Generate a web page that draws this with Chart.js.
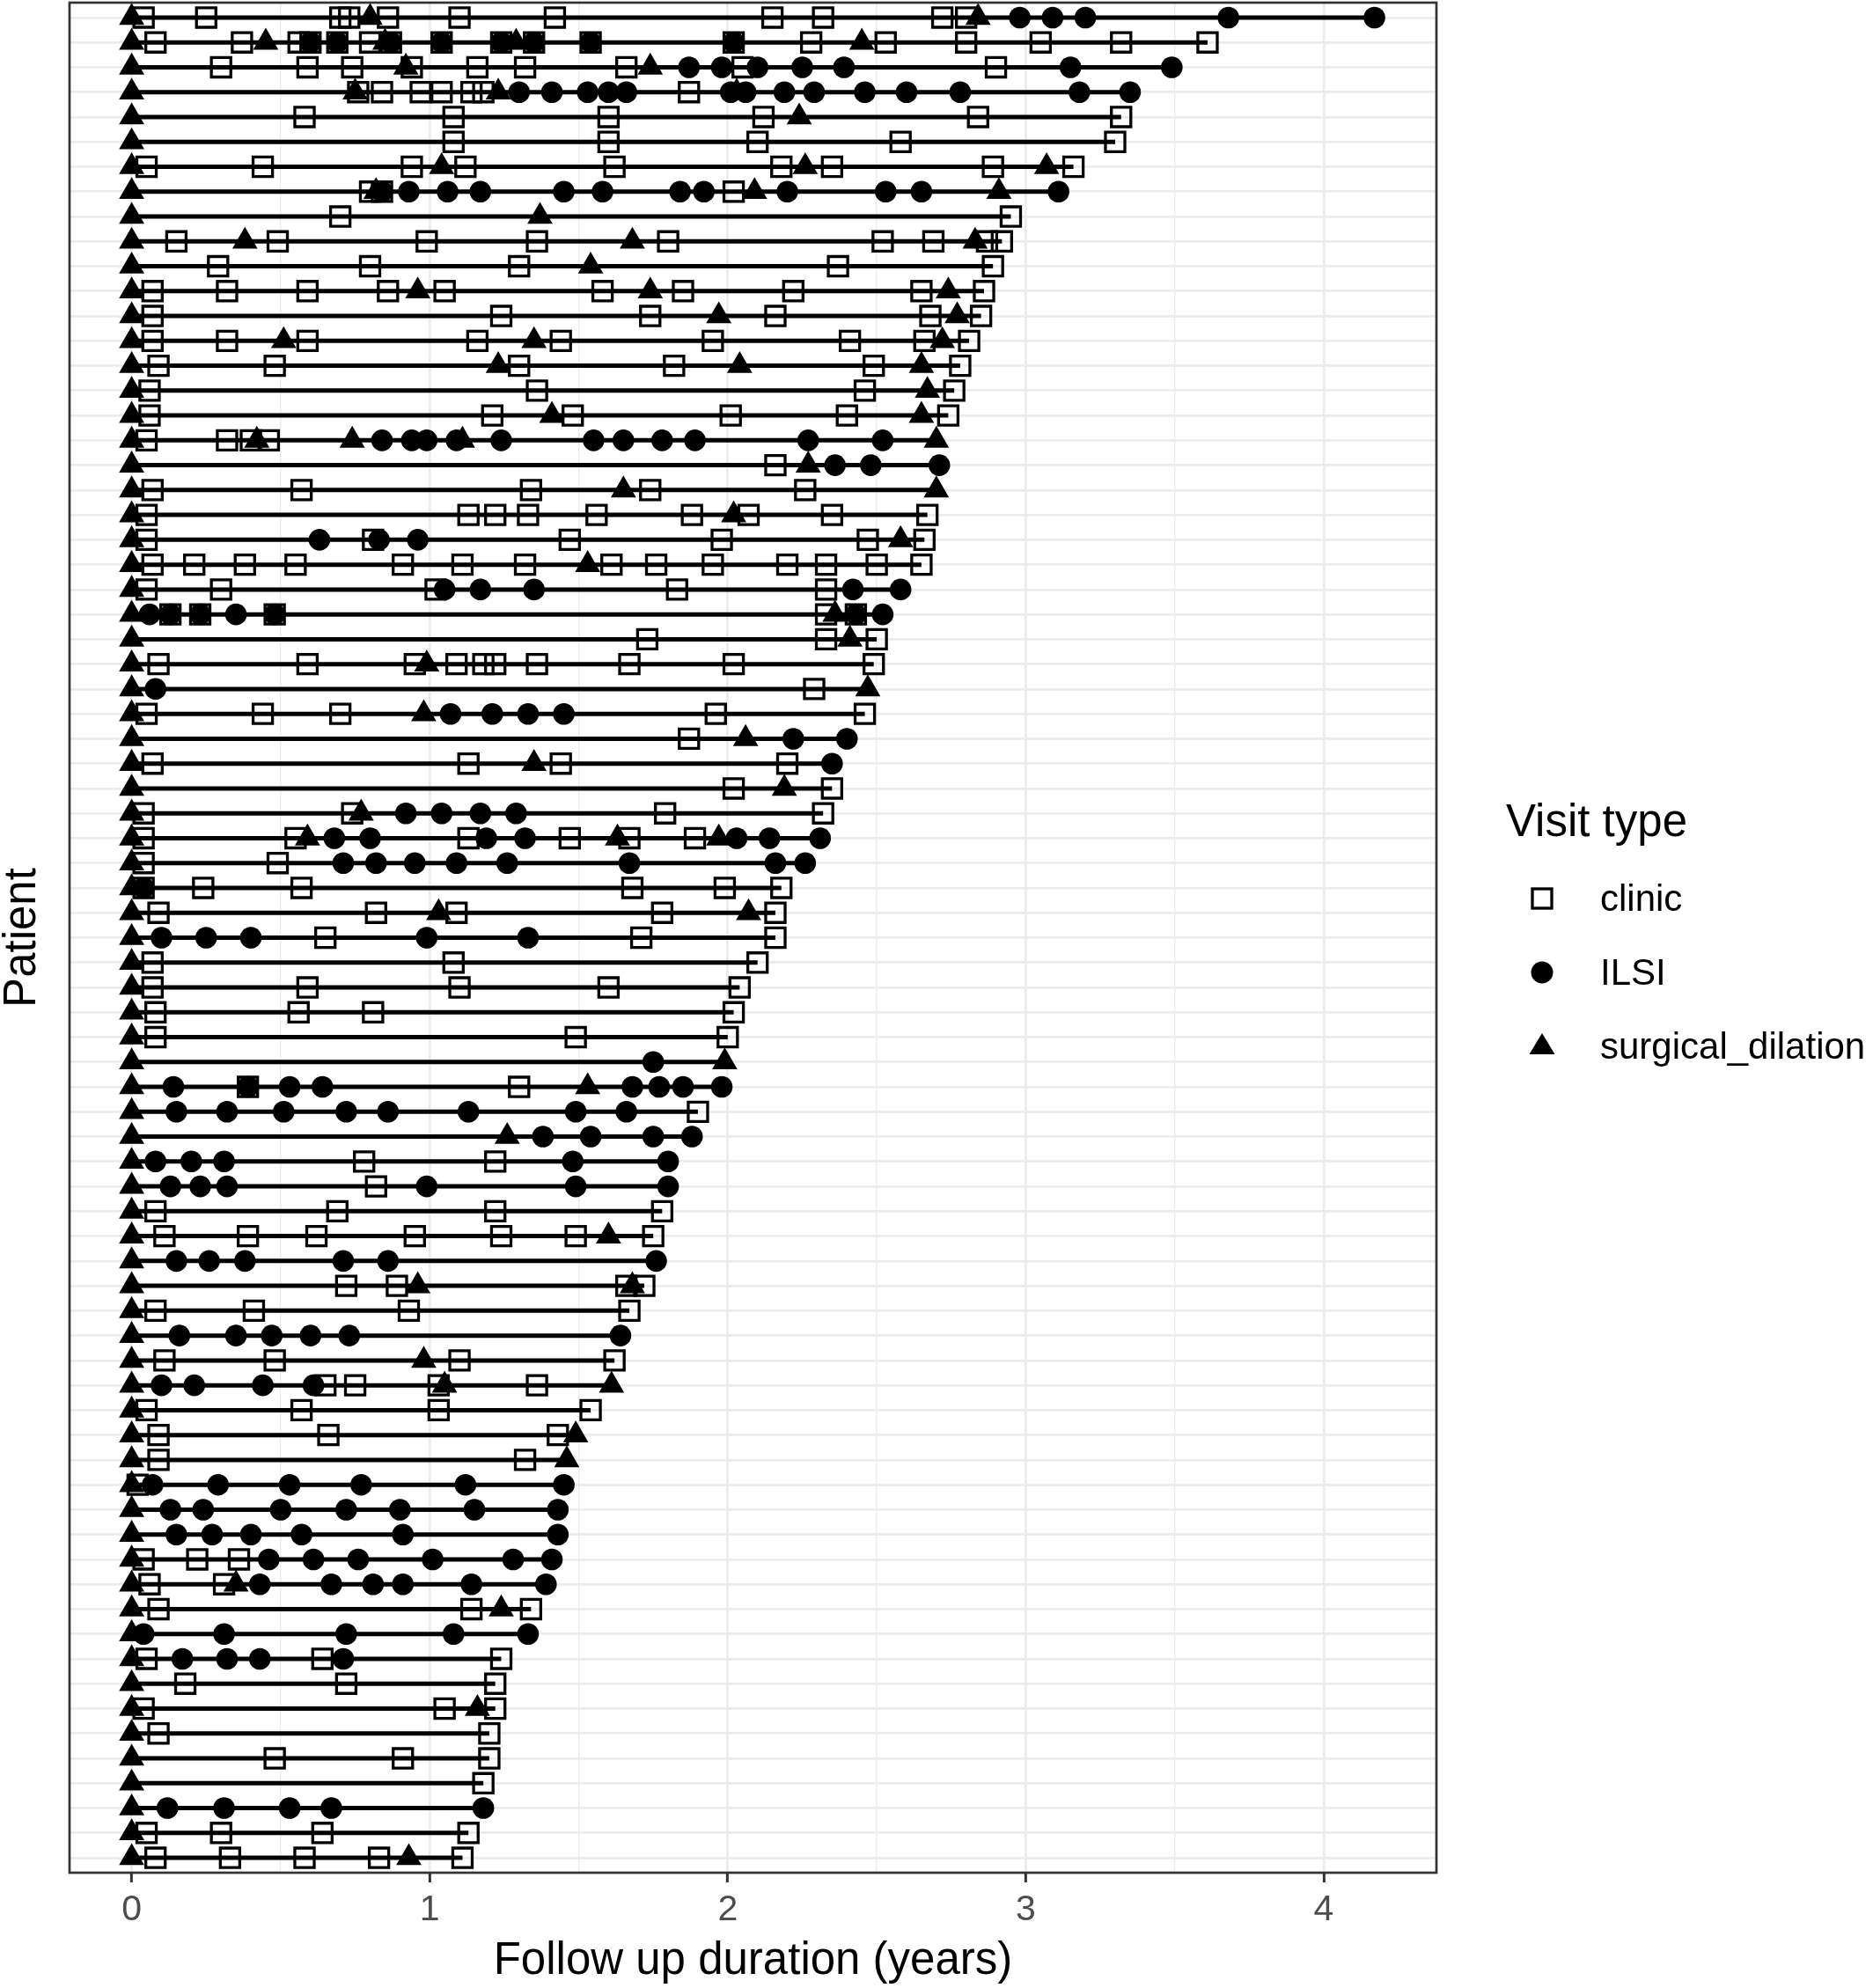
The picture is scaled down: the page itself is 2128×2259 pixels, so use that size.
<!DOCTYPE html>
<html>
<head>
<meta charset="utf-8">
<script src="https://cdn.jsdelivr.net/npm/chart.js@4.4.1/dist/chart.umd.min.js"></script>
<style>
html,body{margin:0;padding:0;background:#fff;}
#wrap{position:relative;width:2128px;height:2259px;}
#legend{position:absolute;left:0;top:0;width:2128px;height:2259px;pointer-events:none;font-family:"Liberation Sans",Arial,sans-serif;color:#000;}
.lt{position:absolute;font-size:51px;line-height:51px;transform:translateY(-50%);white-space:nowrap;}
.li{position:absolute;font-size:42px;line-height:42px;transform:translateY(-50%);white-space:nowrap;}
.lm{position:absolute;width:40px;height:40px;transform:translate(-50%,-50%);}
</style>
</head>
<body>
<div id="wrap"><canvas id="c"></canvas><div id="legend"></div></div>
<script>
// ---------------- DATA ----------------
const patients = [1,2,3,4,5,6,7,8,9,10,11,12,13,14,15,16,17,18,19,20,21,22,23,24,25,
  26,27,28,29,30,31,32,33,34,35,36,37,38,39,40,41,42,43,44,45,46,47,48,49,50,
  51,52,53,54,55,56,57,58,59,60,61,62,63,64,65,66,67,68,69,70,71,72,73,74,75];

const followUpEnd = [
  4.17,3.61,3.49,3.35,3.32,3.30,3.16,3.11,2.95,2.92,
  2.89,2.86,2.85,2.81,2.78,2.76,2.74,2.70,2.71,2.70,
  2.67,2.66,2.65,2.58,2.52,2.50,2.49,2.47,2.46,2.40,
  2.35,2.35,2.32,2.31,2.26,2.18,2.16,2.16,2.10,2.04,
  2.02,2.00,1.99,1.98,1.90,1.88,1.80,1.80,1.78,1.75,
  1.76,1.72,1.67,1.64,1.62,1.61,1.54,1.49,1.46,1.45,
  1.43,1.43,1.41,1.39,1.34,1.33,1.24,1.22,1.22,1.20,
  1.20,1.18,1.18,1.13,1.11];

const clinicVisits = [
  [0.04,0.25,0.70,0.73,0.86,1.10,1.42,2.15,2.32,2.72,2.80],
  [0.08,0.37,0.56,0.60,0.69,0.80,0.87,1.04,1.24,1.35,1.54,2.02,2.28,2.53,2.80,3.05,3.32,3.61],
  [0.30,0.59,0.74,0.94,1.16,1.32,1.66,2.05,2.90],
  [0.76,0.84,0.97,1.04,1.14,1.18,1.87],
  [0.58,1.08,1.60,2.12,2.84,3.32],
  [1.08,1.60,2.10,2.58,3.30],
  [0.05,0.44,0.94,1.12,1.62,2.18,2.35,2.89,3.16],
  [0.80,0.84,2.02],
  [0.70,2.95],
  [0.15,0.49,0.99,1.36,1.80,2.52,2.69,2.87,2.92],
  [0.29,0.80,1.30,2.37,2.89],
  [0.07,0.32,0.59,0.86,1.05,1.58,1.85,2.22,2.65,2.86],
  [0.07,1.24,1.74,2.16,2.68,2.85],
  [0.07,0.32,0.59,1.16,1.44,1.95,2.41,2.66,2.81],
  [0.09,0.48,1.30,1.82,2.49,2.78],
  [0.06,1.36,2.46,2.76],
  [0.06,1.21,1.48,2.01,2.40,2.74],
  [0.05,0.32,0.40,0.46],
  [2.16],
  [0.07,0.57,1.34,1.74,2.26],
  [0.05,1.13,1.22,1.33,1.56,1.88,2.07,2.35,2.67],
  [0.05,0.81,1.47,1.98,2.47,2.66],
  [0.07,0.21,0.38,0.55,0.91,1.11,1.32,1.61,1.76,1.95,2.20,2.33,2.50,2.65],
  [0.05,0.30,1.02,1.83,2.33],
  [0.13,0.23,0.48,2.33,2.43],
  [1.73,2.33,2.50],
  [0.09,0.59,0.95,1.09,1.18,1.22,1.36,1.67,2.02,2.49],
  [2.29],
  [0.05,0.44,0.70,1.96,2.46],
  [1.87],
  [0.07,1.13,1.44,2.20],
  [2.02,2.35],
  [0.04,0.74,1.79,2.32],
  [0.04,0.55,1.13,1.47,1.67,1.89],
  [0.04,0.49],
  [0.04,0.24,0.57,1.68,1.99,2.18],
  [0.09,0.82,1.09,1.78,2.16],
  [0.65,1.71,2.16],
  [0.07,1.08,2.10],
  [0.07,0.59,1.10,1.60,2.04],
  [0.08,0.56,0.81,2.02],
  [0.08,1.49,2.00],
  [],
  [0.39,1.30],
  [1.90],
  [],
  [0.78,1.22],
  [0.82],
  [0.08,0.69,1.22,1.78],
  [0.11,0.39,0.62,0.95,1.24,1.49,1.75],
  [],
  [0.72,0.89,1.66,1.72],
  [0.08,0.41,0.93,1.67],
  [],
  [0.11,0.48,1.10,1.62],
  [0.65,0.75,1.03,1.36],
  [0.05,0.57,1.03,1.54],
  [0.09,0.66,1.43],
  [0.09,1.32],
  [0.02],
  [],
  [],
  [0.04,0.22,0.36],
  [0.06,0.31],
  [0.09,1.14,1.34],
  [],
  [0.05,0.64,1.24],
  [0.18,0.72,1.22],
  [0.04,1.05,1.22],
  [0.09,1.20],
  [0.48,0.91,1.20],
  [1.18],
  [],
  [0.05,0.30,0.64,1.13],
  [0.08,0.33,0.58,0.83,1.11]
];

const ilsiVisits = [
  [2.98,3.09,3.20,3.68,4.17],
  [0.60,0.69,0.87,1.04,1.24,1.35,1.54,2.02],
  [1.87,1.98,2.10,2.25,2.39,3.15,3.49],
  [1.30,1.41,1.53,1.60,1.66,2.01,2.06,2.19,2.29,2.46,2.60,2.78,3.18,3.35],
  [],
  [],
  [],
  [0.84,0.93,1.06,1.17,1.45,1.58,1.84,1.92,2.20,2.53,2.65,3.11],
  [],
  [],
  [],
  [],
  [],
  [],
  [],
  [],
  [],
  [0.84,0.94,0.99,1.09,1.24,1.55,1.65,1.78,1.89,2.27,2.52],
  [2.36,2.48,2.71],
  [],
  [],
  [0.63,0.83,0.96],
  [],
  [1.05,1.17,1.35,2.42,2.58],
  [0.06,0.13,0.23,0.35,0.48,2.43,2.52],
  [],
  [],
  [0.08],
  [1.07,1.21,1.33,1.45],
  [2.22,2.40],
  [2.35],
  [],
  [0.92,1.04,1.17,1.29],
  [0.68,0.80,1.19,1.32,2.03,2.14,2.31],
  [0.71,0.82,0.95,1.09,1.26,1.67,2.16,2.26],
  [0.04],
  [],
  [0.10,0.25,0.40,0.99,1.33],
  [],
  [],
  [],
  [],
  [1.75],
  [0.14,0.39,0.53,0.64,1.68,1.77,1.85,1.98],
  [0.15,0.32,0.51,0.72,0.86,1.13,1.49,1.66],
  [1.38,1.54,1.75,1.88],
  [0.08,0.20,0.31,1.48,1.80],
  [0.13,0.23,0.32,0.99,1.49,1.80],
  [],
  [],
  [0.15,0.26,0.38,0.71,0.86,1.76],
  [],
  [],
  [0.16,0.35,0.47,0.60,0.73,1.64],
  [],
  [0.10,0.21,0.44,0.61],
  [],
  [],
  [],
  [0.07,0.29,0.53,0.77,1.12,1.45],
  [0.13,0.24,0.50,0.72,0.90,1.15,1.43],
  [0.15,0.27,0.40,0.57,0.91,1.43],
  [0.46,0.61,0.76,1.01,1.28,1.41],
  [0.43,0.67,0.81,0.91,1.14,1.39],
  [],
  [0.04,0.31,0.72,1.08,1.33],
  [0.17,0.32,0.43,0.71],
  [],
  [],
  [],
  [],
  [],
  [0.12,0.31,0.53,0.67,1.18],
  [],
  []
];

const dilationVisits = [
  [0,0.80,2.84],
  [0,0.45,0.85,1.29,2.45],
  [0,0.92,1.74],
  [0,0.75,1.23,2.03],
  [0,2.24],
  [0],
  [0,1.04,2.26,3.07],
  [0,0.82,2.09,2.91],
  [0,1.37],
  [0,0.38,1.68,2.83],
  [0,1.54],
  [0,0.96,1.74,2.74],
  [0,1.97,2.77],
  [0,0.51,1.35,2.72],
  [0,1.23,2.04,2.65],
  [0,2.67],
  [0,1.41,2.65],
  [0,0.42,0.74,1.11,2.70],
  [0,2.27],
  [0,1.65,2.70],
  [0,2.02],
  [0,2.58],
  [0,1.53],
  [0],
  [0,2.36],
  [0,2.41],
  [0,0.99],
  [0,2.47],
  [0,0.98],
  [0,2.06],
  [0,1.35],
  [0,2.19],
  [0,0.77],
  [0,0.59,1.63,1.97],
  [0],
  [0],
  [0,1.03,2.07],
  [0],
  [0],
  [0],
  [0],
  [0],
  [0,1.99],
  [0,1.53],
  [0],
  [0,1.26],
  [0],
  [0],
  [0],
  [0,1.60],
  [0],
  [0,0.96,1.68],
  [0],
  [0],
  [0,0.98],
  [0,1.05,1.61],
  [0],
  [0,1.49],
  [0,1.46],
  [0],
  [0],
  [0],
  [0],
  [0,0.35],
  [0,1.24],
  [0],
  [0],
  [0],
  [0,1.16],
  [0],
  [0],
  [0],
  [0],
  [0],
  [0,0.93]
];

const xTickValues = [0,0.5,1,1.5,2,2.5,3,3.5,4];
const seriesNames = ['clinic','ILSI','surgical_dilation'];
const legendTitle = 'Visit type';
const xTitle = 'Follow up duration (years)';
const yTitle = 'Patient';

// ---------------- BUILD ----------------
const FONT = '"Liberation Sans", Arial, sans-serif';
function toPoints(rows){
  const out = [];
  rows.forEach((row, i) => row.forEach(v => out.push({x: v, y: i})));
  return out;
}

const lineSets = followUpEnd.map((e, i) => ({
  label: 'line' + patients[i],
  data: [{x: 0, y: i}, {x: e, y: i}],
  showLine: true,
  borderColor: '#000',
  borderWidth: 5,
  pointRadius: 0,
  pointHoverRadius: 0,
  fill: false,
  order: 10
}));

const datasets = lineSets.concat([
  {
    label: seriesNames[0],
    data: toPoints(clinicVisits),
    pointStyle: 'rect',
    pointRadius: 15.6,
    backgroundColor: 'rgba(0,0,0,0)',
    borderColor: '#000',
    borderWidth: 3.3,
    order: 3
  },
  {
    label: seriesNames[1],
    data: toPoints(ilsiVisits),
    pointStyle: 'circle',
    pointRadius: 12.3,
    backgroundColor: '#000',
    borderColor: '#000',
    borderWidth: 0,
    order: 2
  },
  {
    label: seriesNames[2],
    data: toPoints(dilationVisits),
    pointStyle: 'triangle',
    pointRadius: 16.6,
    backgroundColor: '#000',
    borderColor: '#000',
    borderWidth: 0,
    order: 1
  }
]);

const panelBorder = {
  id: 'panelBorder',
  afterDraw(chart){
    const {ctx, chartArea: a} = chart;
    ctx.save();
    ctx.strokeStyle = '#333333';
    ctx.lineWidth = 2.7;
    ctx.strokeRect(a.left, a.top, a.right - a.left, a.bottom - a.top);
    ctx.restore();
  }
};

new Chart(document.getElementById('c'), {
  type: 'scatter',
  data: { datasets },
  plugins: [panelBorder],
  options: {
    responsive: true,
    maintainAspectRatio: false,
    devicePixelRatio: 1,
    animation: false,
    events: [],
    layout: { autoPadding: false, padding: { left: 0, right: 496, top: 3, bottom: 0 } },
    plugins: { legend: { display: false }, tooltip: { enabled: false } },
    scales: {
      x: {
        type: 'linear',
        min: -0.2085,
        max: 4.378,
        afterBuildTicks: s => { s.ticks = xTickValues.map(v => ({value: v})); },
        afterFit: s => { s.height = 131; },
        ticks: {
          autoSkip: false,
          maxRotation: 0,
          padding: 7,
          color: '#4d4d4d',
          font: { family: FONT, size: 41 },
          callback: v => Number.isInteger(v) ? String(v) : ''
        },
        grid: {
          color: '#ebebeb',
          lineWidth: c => (c.tick && Number.isInteger(c.tick.value)) ? 2.7 : 1.4,
          drawTicks: true,
          tickLength: 11,
          tickWidth: 3,
          tickColor: c => (c.tick && Number.isInteger(c.tick.value)) ? '#333333' : 'rgba(0,0,0,0)'
        },
        border: { display: false },
        title: {
          display: true,
          text: xTitle,
          color: '#000',
          font: { family: FONT, size: 51, lineHeight: 1 },
          padding: { top: 0, bottom: 4.5 }
        }
      },
      y: {
        type: 'linear',
        reverse: true,
        min: -0.6,
        max: patients.length - 0.4,
        afterBuildTicks: s => { s.ticks = patients.map((p, i) => ({value: i})); },
        afterFit: s => { s.width = 79; },
        ticks: { display: false },
        grid: { color: '#ebebeb', lineWidth: 2.7, drawTicks: false },
        border: { display: false },
        title: {
          display: true,
          text: yTitle,
          color: '#000',
          font: { family: FONT, size: 51, lineHeight: 1 },
          padding: { top: 0, bottom: 0 }
        }
      }
    }
  }
});

// ---------------- LEGEND (HTML) ----------------
const legend = document.getElementById('legend');
const markerSvg = {
  clinic: '<svg width="40" height="40"><rect x="9" y="9" width="22" height="22" fill="none" stroke="#000" stroke-width="3.3"/></svg>',
  ILSI: '<svg width="40" height="40"><circle cx="20" cy="20" r="12.5" fill="#000"/></svg>',
  surgical_dilation: '<svg width="40" height="40"><polygon points="20,5 34.5,29 5.5,29" fill="#000"/></svg>'
};
const t = document.createElement('div');
t.className = 'lt';
t.style.left = '1711px';
t.style.top = '932px';
t.textContent = legendTitle;
legend.appendChild(t);
const itemY = [1021, 1105, 1189];
seriesNames.forEach((name, k) => {
  const m = document.createElement('div');
  m.className = 'lm';
  m.style.left = '1752px';
  m.style.top = itemY[k] + 'px';
  m.innerHTML = markerSvg[name];
  legend.appendChild(m);
  const l = document.createElement('div');
  l.className = 'li';
  l.style.left = '1818px';
  l.style.top = itemY[k] + 'px';
  l.textContent = name;
  legend.appendChild(l);
});
</script>
</body>
</html>
